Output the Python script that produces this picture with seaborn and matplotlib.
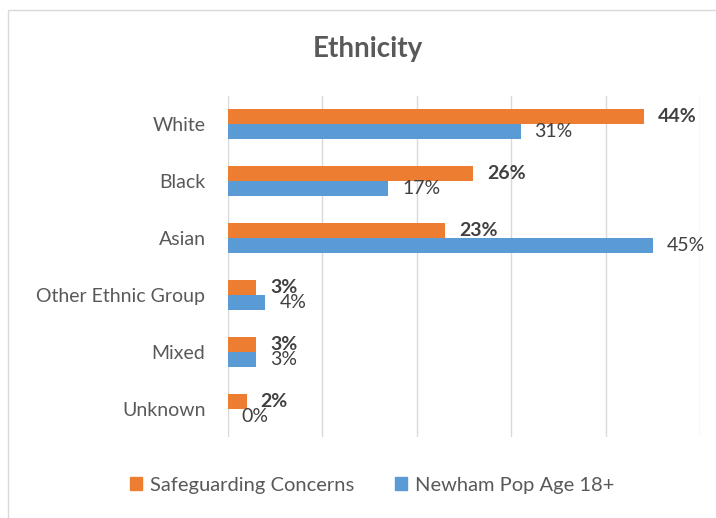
import numpy as np
import pandas as pd
import matplotlib.pyplot as plt
import matplotlib.patches as mpatches
import seaborn as sns

# data
groups = ['White', 'Black', 'Asian', 'Other Ethnic Group', 'Mixed', 'Unknown']
safeguarding = [44, 26, 23, 3, 3, 2]
newham = [31, 17, 45, 4, 3, 0]
series = ['Safeguarding Concerns', 'Newham Pop Age 18+']
colors = ['#ED7D31', '#5B9BD5']

df = pd.DataFrame({
    'group': groups * 2,
    'pct': safeguarding + newham,
    'series': [series[0]] * len(groups) + [series[1]] * len(groups),
})

sns.set_style('white')
plt.rcParams['font.family'] = ['Lato', 'DejaVu Sans']

fig = plt.figure(figsize=(7.16, 5.18), dpi=100)
ax = fig.add_axes([0.318, 0.156, 0.66, 0.659])

sns.barplot(data=df, y='group', x='pct', hue='series', order=groups,
            hue_order=series, palette=colors, orient='h', width=0.53,
            saturation=1, linewidth=0, ax=ax, legend=False)

ax.set_xlim(0, 50)
ax.set_xticks([0, 10, 20, 30, 40, 50])
ax.set_xticklabels([])
ax.grid(axis='x', color='#d9d9d9', lw=1)
ax.grid(axis='y', visible=False)
ax.set_axisbelow(True)
for s in ax.spines.values():
    s.set_visible(False)
ax.tick_params(axis='both', length=0)
ax.tick_params(axis='y', labelsize=14, labelcolor='#595959', pad=16)
ax.set_xlabel('')
ax.set_ylabel('')

# value labels: orange bold, blue regular (they overlap on small bars, as in the original)
for i, cont in enumerate(ax.containers):
    ax.bar_label(cont, labels=['{:.0f}%'.format(v) for v in cont.datavalues],
                 padding=10, fontsize=14, color='#404040',
                 fontweight='bold' if i == 0 else 'normal')

fig.text(0.514, 0.906, 'Ethnicity', ha='center', va='center',
         fontsize=20, fontweight='bold', color='#595959')

handles = [mpatches.Patch(color=c, label=s) for c, s in zip(colors, series)]
fig.legend(handles=handles, loc='center', bbox_to_anchor=(0.52, 0.063),
           ncol=2, frameon=False, fontsize=14.5, handlelength=0.6,
           handleheight=0.6, handletextpad=0.4, columnspacing=2.0,
           labelcolor='#595959')

# chart frame
fig.patches.append(mpatches.Rectangle((0.011, -0.01), 1.0, 0.99,
                                      transform=fig.transFigure, fill=False,
                                      edgecolor='#d9d9d9', lw=1))

fig.savefig('out.png', dpi=100)
